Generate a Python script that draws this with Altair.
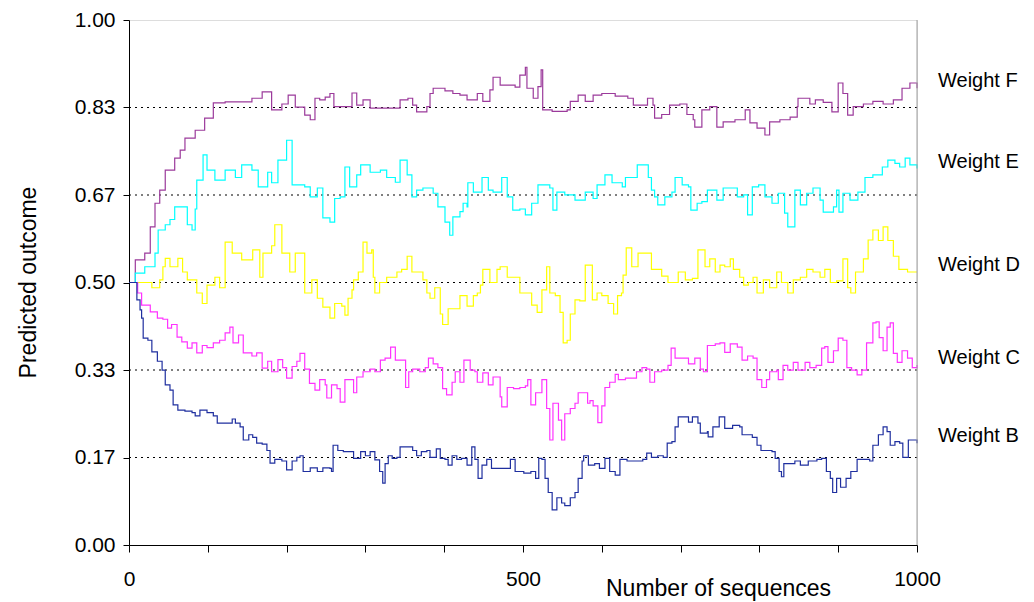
import altair as alt
import pandas as pd

# ---------------- data ----------------
series_names = ["Weight F", "Weight E", "Weight D", "Weight C", "Weight B"]
series_colors = ["#9B3A9B", "#00FFFF", "#FFFF00", "#FF33FF", "#1F2F9F"]

f_x = [0, 8, 20, 27, 33, 39, 46, 58, 65, 71, 84, 96, 107, 122, 151, 156, 169, 181, 194, 202, 211, 223, 230, 236, 242, 249, 255, 260, 272, 283, 289, 297, 306, 340, 344, 354, 360, 365, 378, 382, 386, 401, 411, 420, 429, 442, 449, 458, 462, 471, 484, 490, 496, 503, 505, 513, 519, 523, 525, 537, 556, 560, 570, 579, 589, 600, 617, 633, 640, 655, 658, 665, 667, 676, 686, 699, 708, 716, 718, 727, 737, 746, 754, 769, 782, 788, 797, 807, 813, 826, 839, 848, 849, 864, 871, 881, 892, 900, 906, 912, 919, 932, 944, 957, 970, 981, 991, 1000]
f_y = [0.50, 0.543, 0.556, 0.606, 0.651, 0.676, 0.714, 0.737, 0.752, 0.775, 0.790, 0.813, 0.842, 0.844, 0.844, 0.851, 0.863, 0.829, 0.84, 0.857, 0.834, 0.819, 0.81, 0.851, 0.848, 0.853, 0.86, 0.835, 0.835, 0.861, 0.838, 0.848, 0.832, 0.832, 0.848, 0.851, 0.838, 0.825, 0.835, 0.86, 0.870, 0.865, 0.86, 0.857, 0.848, 0.86, 0.845, 0.867, 0.891, 0.876, 0.876, 0.872, 0.895, 0.91, 0.87, 0.851, 0.873, 0.905, 0.829, 0.826, 0.829, 0.845, 0.857, 0.845, 0.857, 0.86, 0.855, 0.851, 0.838, 0.838, 0.851, 0.838, 0.813, 0.82, 0.838, 0.84, 0.82, 0.81, 0.796, 0.829, 0.835, 0.796, 0.806, 0.81, 0.829, 0.804, 0.794, 0.781, 0.806, 0.81, 0.815, 0.835, 0.851, 0.84, 0.848, 0.843, 0.825, 0.88, 0.86, 0.819, 0.835, 0.84, 0.845, 0.84, 0.848, 0.87, 0.88, 0.87]

e_x = [0, 8, 20, 29, 33, 37, 46, 52, 58, 67, 74, 80, 84, 86, 94, 99, 109, 122, 135, 143, 156, 164, 176, 181, 189, 200, 207, 223, 230, 239, 246, 255, 261, 268, 274, 280, 289, 294, 306, 319, 327, 338, 344, 353, 359, 365, 373, 386, 392, 401, 407, 411, 420, 424, 429, 430, 437, 448, 456, 462, 473, 480, 487, 496, 503, 511, 519, 530, 534, 538, 543, 553, 566, 579, 589, 594, 604, 613, 626, 630, 638, 645, 655, 659, 663, 667, 671, 680, 689, 693, 702, 710, 713, 721, 727, 734, 746, 754, 766, 772, 780, 785, 791, 799, 807, 816, 824, 832, 836, 845, 852, 860, 868, 877, 881, 894, 898, 901, 906, 915, 925, 934, 944, 956, 963, 972, 978, 985, 991, 1000]
e_y = [0.50, 0.518, 0.53, 0.53, 0.556, 0.60, 0.61, 0.62, 0.644, 0.644, 0.61, 0.60, 0.64, 0.695, 0.743, 0.714, 0.695, 0.714, 0.70, 0.724, 0.714, 0.682, 0.71, 0.69, 0.733, 0.771, 0.686, 0.682, 0.663, 0.68, 0.623, 0.615, 0.66, 0.663, 0.72, 0.682, 0.705, 0.724, 0.71, 0.714, 0.70, 0.691, 0.733, 0.705, 0.663, 0.676, 0.68, 0.67, 0.644, 0.615, 0.59, 0.625, 0.635, 0.651, 0.644, 0.69, 0.672, 0.70, 0.676, 0.672, 0.70, 0.663, 0.638, 0.64, 0.629, 0.651, 0.686, 0.686, 0.68, 0.638, 0.672, 0.667, 0.657, 0.672, 0.66, 0.686, 0.705, 0.69, 0.682, 0.70, 0.70, 0.724, 0.724, 0.70, 0.676, 0.663, 0.648, 0.663, 0.672, 0.70, 0.686, 0.682, 0.638, 0.651, 0.654, 0.676, 0.657, 0.68, 0.68, 0.663, 0.667, 0.629, 0.682, 0.686, 0.663, 0.651, 0.67, 0.632, 0.606, 0.676, 0.648, 0.67, 0.68, 0.657, 0.634, 0.644, 0.676, 0.634, 0.67, 0.657, 0.672, 0.70, 0.705, 0.72, 0.733, 0.727, 0.72, 0.737, 0.724, 0.717]

d_x = [0, 20, 29, 36, 39, 43, 46, 52, 58, 62, 68, 74, 81, 86, 93, 99, 109, 115, 122, 131, 143, 157, 166, 170, 181, 185, 194, 204, 211, 223, 232, 239, 246, 255, 261, 270, 274, 278, 283, 285, 291, 297, 302, 308, 310, 312, 318, 327, 340, 346, 353, 359, 365, 373, 378, 382, 388, 392, 395, 398, 405, 411, 420, 429, 437, 442, 446, 449, 458, 467, 471, 480, 488, 496, 505, 511, 518, 524, 530, 534, 541, 547, 551, 556, 560, 566, 572, 579, 588, 594, 600, 608, 615, 620, 625, 627, 631, 638, 646, 659, 663, 676, 684, 697, 706, 715, 722, 731, 737, 744, 750, 756, 763, 767, 775, 780, 786, 792, 797, 805, 813, 822, 828, 836, 843, 852, 860, 868, 877, 883, 890, 898, 906, 912, 916, 922, 932, 938, 944, 951, 957, 963, 970, 977, 988, 1000]
d_y = [0.50, 0.50, 0.49, 0.49, 0.505, 0.53, 0.546, 0.53, 0.53, 0.546, 0.52, 0.505, 0.505, 0.48, 0.46, 0.495, 0.51, 0.49, 0.577, 0.556, 0.543, 0.562, 0.51, 0.556, 0.57, 0.61, 0.556, 0.52, 0.556, 0.48, 0.505, 0.47, 0.453, 0.432, 0.46, 0.455, 0.438, 0.47, 0.486, 0.505, 0.52, 0.577, 0.556, 0.562, 0.51, 0.48, 0.50, 0.51, 0.52, 0.525, 0.55, 0.52, 0.52, 0.505, 0.48, 0.47, 0.49, 0.49, 0.44, 0.42, 0.45, 0.45, 0.475, 0.455, 0.475, 0.48, 0.495, 0.525, 0.50, 0.525, 0.53, 0.51, 0.51, 0.48, 0.48, 0.457, 0.443, 0.486, 0.53, 0.48, 0.475, 0.443, 0.385, 0.39, 0.44, 0.467, 0.465, 0.533, 0.467, 0.48, 0.475, 0.46, 0.44, 0.475, 0.48, 0.514, 0.566, 0.53, 0.556, 0.556, 0.525, 0.512, 0.50, 0.52, 0.505, 0.508, 0.562, 0.53, 0.545, 0.52, 0.533, 0.53, 0.545, 0.525, 0.51, 0.495, 0.50, 0.51, 0.48, 0.505, 0.49, 0.52, 0.50, 0.48, 0.505, 0.51, 0.525, 0.52, 0.51, 0.525, 0.50, 0.503, 0.545, 0.49, 0.48, 0.52, 0.545, 0.581, 0.60, 0.58, 0.606, 0.58, 0.55, 0.525, 0.52, 0.52]

c_x = [0, 4, 11, 16, 27, 36, 43, 49, 54, 61, 67, 74, 80, 86, 93, 99, 107, 115, 122, 128, 132, 139, 145, 156, 162, 169, 176, 181, 189, 195, 200, 207, 213, 217, 223, 229, 236, 242, 249, 251, 257, 264, 268, 274, 280, 285, 289, 297, 306, 312, 319, 325, 332, 338, 344, 351, 355, 360, 369, 376, 380, 386, 392, 398, 403, 410, 414, 420, 425, 433, 439, 442, 449, 456, 462, 471, 473, 480, 488, 496, 503, 506, 510, 516, 524, 530, 534, 538, 545, 549, 553, 560, 566, 570, 577, 582, 585, 589, 595, 600, 604, 610, 617, 621, 630, 638, 644, 651, 657, 661, 667, 676, 684, 688, 693, 702, 710, 718, 725, 729, 734, 744, 750, 756, 763, 772, 778, 785, 792, 797, 803, 809, 813, 822, 824, 830, 836, 843, 849, 858, 864, 872, 879, 883, 887, 894, 900, 906, 911, 917, 924, 930, 936, 944, 948, 952, 957, 962, 966, 970, 975, 981, 988, 994, 1000]
c_y = [0.50, 0.50, 0.48, 0.457, 0.444, 0.432, 0.43, 0.413, 0.42, 0.396, 0.387, 0.375, 0.385, 0.366, 0.38, 0.376, 0.385, 0.39, 0.404, 0.415, 0.385, 0.40, 0.366, 0.36, 0.366, 0.337, 0.35, 0.33, 0.353, 0.338, 0.318, 0.34, 0.35, 0.365, 0.335, 0.308, 0.295, 0.315, 0.305, 0.28, 0.305, 0.298, 0.272, 0.315, 0.315, 0.29, 0.32, 0.33, 0.335, 0.33, 0.352, 0.356, 0.377, 0.352, 0.352, 0.30, 0.33, 0.335, 0.33, 0.338, 0.356, 0.345, 0.338, 0.298, 0.286, 0.31, 0.33, 0.31, 0.352, 0.333, 0.33, 0.31, 0.328, 0.305, 0.32, 0.282, 0.263, 0.30, 0.298, 0.30, 0.303, 0.315, 0.267, 0.29, 0.315, 0.26, 0.20, 0.27, 0.238, 0.20, 0.25, 0.26, 0.27, 0.29, 0.29, 0.27, 0.275, 0.265, 0.233, 0.265, 0.30, 0.31, 0.325, 0.315, 0.318, 0.318, 0.33, 0.338, 0.335, 0.31, 0.33, 0.333, 0.342, 0.375, 0.356, 0.356, 0.345, 0.356, 0.335, 0.33, 0.38, 0.383, 0.385, 0.367, 0.383, 0.377, 0.352, 0.36, 0.356, 0.315, 0.30, 0.315, 0.33, 0.333, 0.315, 0.342, 0.333, 0.348, 0.333, 0.348, 0.338, 0.342, 0.375, 0.378, 0.348, 0.37, 0.394, 0.39, 0.338, 0.333, 0.324, 0.333, 0.385, 0.423, 0.425, 0.395, 0.37, 0.415, 0.423, 0.365, 0.348, 0.37, 0.356, 0.338, 0.343]

b_x = [0, 4, 10, 14, 16, 18, 24, 29, 36, 42, 46, 52, 56, 62, 71, 80, 84, 90, 99, 107, 112, 119, 131, 135, 141, 145, 152, 157, 162, 169, 175, 179, 185, 194, 200, 207, 213, 217, 221, 230, 239, 246, 255, 257, 259, 265, 272, 283, 285, 294, 300, 306, 312, 318, 322, 325, 329, 334, 340, 344, 354, 360, 365, 371, 378, 382, 390, 395, 401, 405, 410, 416, 422, 429, 435, 439, 443, 448, 454, 460, 467, 475, 484, 490, 501, 510, 516, 520, 524, 528, 532, 537, 543, 549, 553, 560, 566, 570, 575, 577, 583, 591, 597, 604, 610, 617, 623, 632, 643, 652, 657, 663, 671, 678, 683, 689, 693, 697, 706, 710, 715, 722, 725, 734, 735, 741, 749, 756, 766, 775, 778, 786, 791, 797, 802, 809, 816, 820, 825, 828, 831, 839, 845, 852, 862, 873, 879, 885, 890, 893, 898, 903, 910, 916, 924, 932, 940, 944, 951, 957, 962, 966, 972, 978, 982, 989, 995, 1000]
b_y = [0.50, 0.50, 0.467, 0.448, 0.432, 0.394, 0.39, 0.368, 0.35, 0.333, 0.305, 0.295, 0.267, 0.257, 0.255, 0.252, 0.246, 0.257, 0.252, 0.246, 0.232, 0.232, 0.24, 0.232, 0.225, 0.20, 0.21, 0.205, 0.194, 0.192, 0.18, 0.156, 0.163, 0.16, 0.143, 0.16, 0.167, 0.17, 0.14, 0.147, 0.14, 0.147, 0.146, 0.14, 0.19, 0.18, 0.178, 0.178, 0.165, 0.178, 0.17, 0.178, 0.162, 0.14, 0.118, 0.155, 0.17, 0.165, 0.167, 0.187, 0.187, 0.18, 0.17, 0.178, 0.18, 0.167, 0.183, 0.165, 0.163, 0.152, 0.17, 0.163, 0.165, 0.152, 0.187, 0.163, 0.127, 0.152, 0.163, 0.146, 0.146, 0.146, 0.163, 0.14, 0.137, 0.14, 0.127, 0.165, 0.163, 0.127, 0.10, 0.067, 0.09, 0.08, 0.075, 0.09, 0.10, 0.127, 0.16, 0.17, 0.152, 0.155, 0.146, 0.165, 0.14, 0.133, 0.163, 0.16, 0.16, 0.163, 0.175, 0.167, 0.17, 0.167, 0.194, 0.197, 0.225, 0.244, 0.244, 0.234, 0.244, 0.232, 0.213, 0.216, 0.206, 0.225, 0.244, 0.222, 0.228, 0.225, 0.21, 0.21, 0.205, 0.19, 0.18, 0.18, 0.178, 0.165, 0.14, 0.13, 0.155, 0.155, 0.16, 0.152, 0.16, 0.163, 0.165, 0.14, 0.127, 0.10, 0.127, 0.11, 0.127, 0.14, 0.163, 0.163, 0.16, 0.19, 0.21, 0.225, 0.216, 0.19, 0.197, 0.194, 0.167, 0.20, 0.20, 0.194]

grid_values = [1 / 6, 2 / 6, 3 / 6, 4 / 6, 5 / 6]
y_tick_values = [0, 1 / 6, 2 / 6, 3 / 6, 4 / 6, 5 / 6, 1]
x_tick_values = [0, 100, 200, 300, 400, 500, 600, 700, 800, 900, 1000]
x_max = 1000

# ---------------- tables ----------------
all_x = [f_x, e_x, d_x, c_x, b_x]
all_y = [f_y, e_y, d_y, c_y, b_y]
rows = []
for name, xs, ys in zip(series_names, all_x, all_y):
    for xv, yv in zip(xs, ys):
        rows.append({"series": name, "n": xv, "value": yv})
df = pd.DataFrame(rows)

ends = pd.DataFrame({"series": series_names,
                     "n": [xs[-1] for xs in all_x],
                     "value": [ys[-1] for ys in all_y]})
grid_df = pd.DataFrame({"value": grid_values})
border_df = pd.DataFrame({"n": [x_max]})

FONT = "Liberation Sans"
x_scale = alt.Scale(domain=[0, x_max], nice=False, zero=False)
y_scale = alt.Scale(domain=[0, 1], nice=False, zero=False)

x_axis = alt.Axis(values=x_tick_values, format="d",
                  labelExpr="datum.value % 500 == 0 ? datum.label : ''",
                  title="Number of sequences", grid=False,
                  domainColor="black", tickColor="black", tickSize=7,
                  labelFont=FONT, labelFontSize=21, labelColor="black",
                  labelBaseline="alphabetic", labelPadding=33,
                  titleFont=FONT, titleFontSize=23, titleFontWeight="normal",
                  titleColor="black", titleX=589, titleY=50,
                  titleBaseline="alphabetic", titleAlign="center",
                  labelFlush=False, labelOverlap=False)
y_axis = alt.Axis(values=y_tick_values, format=".2f",
                  title="Predicted outcome", grid=False,
                  domainColor="black", tickColor="black", tickSize=6,
                  labelFont=FONT, labelFontSize=21, labelColor="black",
                  labelPadding=8, labelBaseline="middle",
                  titleFont=FONT, titleFontSize=23, titleFontWeight="normal",
                  titleColor="black", titleAngle=270, titleX=-94, titleY=262,
                  titleBaseline="alphabetic", titleAlign="center",
                  labelFlush=False, labelOverlap=False)

grid = alt.Chart(grid_df).mark_rule(color="black", strokeWidth=1,
                                     strokeDash=[2, 4]).encode(
    y=alt.Y("value:Q", scale=y_scale, axis=y_axis),
    x=alt.value(0), x2=alt.value(788))

border = alt.Chart(border_df).mark_rule(color="#A0A0A0", strokeWidth=1).encode(
    x=alt.X("n:Q", scale=x_scale, axis=x_axis),
    y=alt.value(0), y2=alt.value(525))

lines = alt.Chart(df).mark_line(strokeWidth=1.2, interpolate="step-after").encode(
    x=alt.X("n:Q", scale=x_scale, axis=x_axis),
    y=alt.Y("value:Q", scale=y_scale, axis=y_axis),
    color=alt.Color("series:N", scale=alt.Scale(domain=series_names, range=series_colors),
                    legend=None),
    order=alt.Order("n:Q"))

labels = alt.Chart(ends).mark_text(align="left", baseline="middle", dx=21, dy=-7,
                                    font=FONT, fontSize=20, color="black").encode(
    x=alt.X("n:Q", scale=x_scale, axis=x_axis),
    y=alt.Y("value:Q", scale=y_scale, axis=y_axis),
    text="series:N")

chart = alt.layer(grid, lines, border, labels).properties(
    width=788, height=525,
    autosize=alt.AutoSizeParams(type="none"),
    padding={"left": 121, "top": 12, "right": 105, "bottom": 57},
).configure_view(stroke=None).configure(background="white")

chart.save("out.html", embed_options={"renderer": "svg", "actions": False})
